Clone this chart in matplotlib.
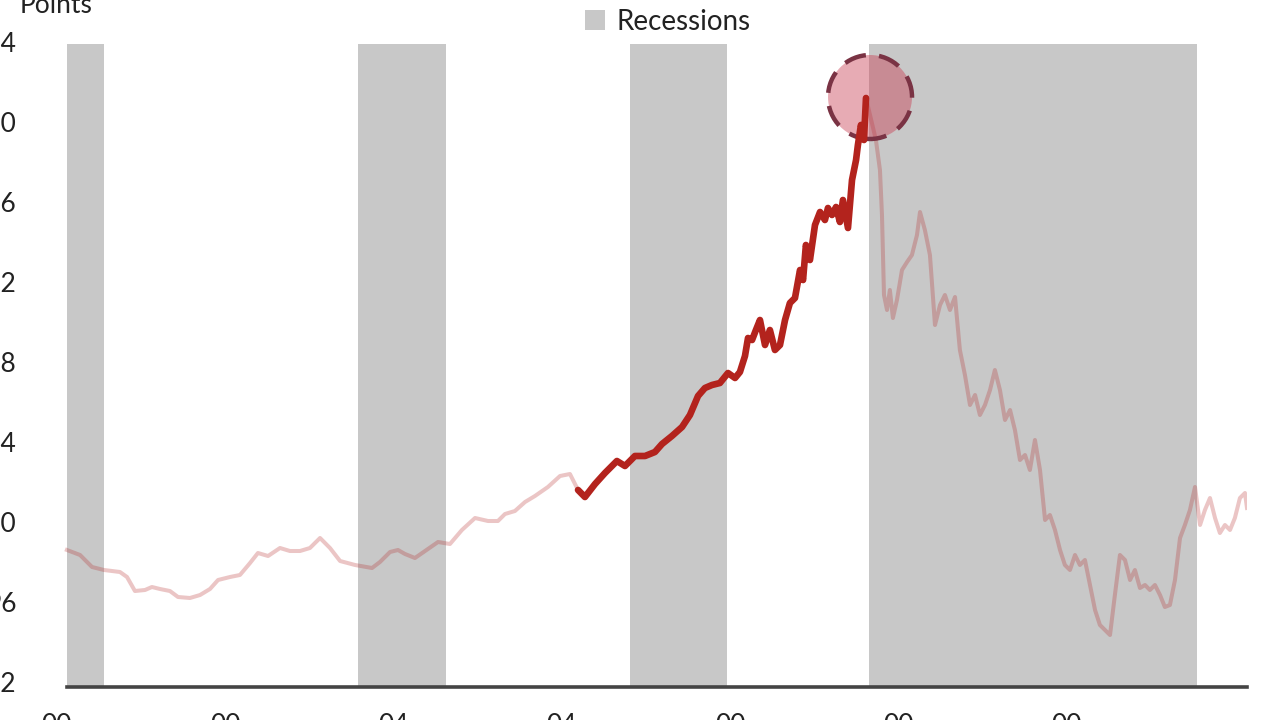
import numpy as np
import matplotlib.pyplot as plt
from matplotlib.patches import Ellipse
from matplotlib.colors import to_rgba

plt.rcParams['font.family'] = ['Lato', 'DejaVu Sans']
plt.rcParams['lines.scale_dashes'] = False

# 指数の推移（読み取り値）
x_vals = [0.59, 1.37, 2.08, 2.79, 3.74, 4.16, 4.63, 5.23, 5.64, 6.12, 6.71, 7.19, 7.90, 8.50,
          9.09, 9.57, 10.28, 10.87, 11.47, 11.94, 12.54, 13.25, 13.84, 14.44, 15.03, 15.63,
          16.22, 16.82, 17.71, 18.72, 19.19, 19.79, 20.26, 20.68, 21.27, 21.87, 22.64, 23.35,
          24.06, 24.84, 25.61, 26.20, 26.62, 27.21, 27.81, 28.40, 29.17, 29.89, 30.48, 30.96,
          31.37, 31.97, 32.56, 33.27, 33.75, 34.34, 34.94, 35.53, 35.95, 36.54, 37.14, 37.61,
          38.09, 38.50, 38.92, 39.39, 39.87, 40.29, 40.58, 40.88, 41.06, 41.30, 41.53, 41.77,
          42.07, 42.36, 42.66, 42.96, 43.26, 43.55, 43.85, 44.15, 44.33, 44.50, 44.74, 45.04,
          45.34, 45.63, 45.81, 46.05, 46.29, 46.52, 46.70, 47.00, 47.24, 47.48, 47.59, 47.77,
          47.95, 48.07,
          48.31, 48.66, 48.90, 49.02, 49.14, 49.32, 49.49, 49.67, 49.91, 50.21, 50.51, 50.80,
          51.10, 51.28, 51.57, 51.87, 52.17, 52.47, 52.76, 53.06, 53.36, 53.65, 53.95, 54.25,
          54.55, 54.84, 55.14, 55.44, 55.73, 56.03, 56.33, 56.63, 56.92, 57.22, 57.52, 57.81,
          58.11, 58.41, 58.71, 59.00, 59.30, 59.60, 59.89, 60.19, 60.49, 60.78, 61.08, 61.38,
          61.68, 61.97, 62.27, 62.57, 62.86, 63.16, 63.46, 63.76, 64.05, 64.35, 64.65, 64.94,
          65.24, 65.54, 65.83, 66.13, 66.43, 66.73, 67.02, 67.32, 67.62, 67.92, 68.21, 68.51,
          68.81, 69.10, 69.40, 69.70, 69.99, 70.29, 70.59, 70.71]
y_vals = [98.6, 98.35, 97.75, 97.6, 97.5, 97.25, 96.55, 96.6, 96.75, 96.65, 96.55, 96.25, 96.2, 96.35,
          96.65, 97.1, 97.25, 97.35, 97.95, 98.45, 98.3, 98.7, 98.55, 98.55, 98.7, 99.2,
          98.7, 98.05, 97.85, 97.7, 98.0, 98.5, 98.6, 98.4, 98.2, 98.55, 99.0, 98.9,
          99.6, 100.2, 100.05, 100.05, 100.4, 100.55, 101.0, 101.3, 101.75, 102.3, 102.4, 101.6,
          101.25, 101.9, 102.45, 103.05, 102.8, 103.3, 103.3, 103.5, 103.9, 104.3, 104.75, 105.35,
          106.3, 106.7, 106.85, 106.95, 107.45, 107.2, 107.5, 108.3, 109.2, 109.1, 109.6, 110.1,
          108.85, 109.6, 108.6, 108.85, 110.1, 110.95, 111.2, 112.6, 112.1, 113.85, 113.1, 114.85,
          115.5, 115.1, 115.7, 115.35, 115.75, 115.0, 116.1, 114.7, 117.1, 118.1, 118.85, 119.85,
          119.1, 121.2,
          120.35, 119.1, 117.6, 115.35, 111.35, 110.6, 111.6, 110.2, 111.1, 112.6, 113.0, 113.35,
          114.35, 115.5, 114.6, 113.35, 109.85, 110.85, 111.35, 110.6, 111.25, 108.6, 107.35, 105.85,
          106.35, 105.35, 105.85, 106.6, 107.6, 106.6, 105.1, 105.6, 104.6, 103.1, 103.35, 102.6,
          104.1, 102.6, 100.1, 100.35, 99.6, 98.6, 97.85, 97.6, 98.35, 97.85, 98.1, 96.85,
          95.6, 94.85, 94.6, 94.35, 96.35, 98.35, 98.1, 97.1, 97.6, 96.7, 96.85, 96.6,
          96.85, 96.35, 95.75, 95.85, 97.1, 99.2, 99.85, 100.6, 101.75, 99.85, 100.6, 101.2,
          100.2, 99.45, 99.85, 99.6, 100.2, 101.2, 101.45, 100.7]

# 強調区間
hl_start = 30.96
hl_end = 48.07

# 景気後退期
recessions = [(0.59, 2.79), (17.88, 23.11), (34.05, 39.81), (48.25, 67.74)]

# ピークの円
peak_x = 48.31
peak_y = 121.25

x_ticks = [0, 10, 20, 30, 40, 50, 60]
x_labels = ["00", "00", "04", "04", "00", "00", "00"]
y_ticks = [92, 96, 100, 104, 108, 112, 116, 120, 124]

x = np.array(x_vals)
y = np.array(y_vals)

fig = plt.figure(figsize=(12.8, 7.2), dpi=100)
ax = fig.add_axes([57 / 1280, 1 - 687 / 720, 1190 / 1280, 645 / 720])

span = None
for a, b in recessions:
    span = ax.axvspan(a, b, ymin=0, ymax=0.997, color='#c8c8c8', lw=0, zorder=1)

# 全体（薄い線）
ax.plot(x, y, color='#b22222', alpha=0.26, lw=2.9, zorder=2, solid_joinstyle='round')

# 強調部分
mask = (x >= hl_start) & (x <= hl_end)
ax.plot(x[mask], y[mask], color='#b3231d', lw=4.8, zorder=4,
        solid_capstyle='round', solid_joinstyle='round')

# ピークの円
circ = Ellipse((peak_x, peak_y), 84 / 16.83, 84 / 20,
               facecolor=to_rgba('#c8384d', 0.42), edgecolor='#7a3344',
               lw=3.2, zorder=3)
circ.set_linestyle((4, (16, 9.5)))
ax.add_patch(circ)

ax.set_xlim(0, 70.71)
ax.set_ylim(91.75, 124)
ax.set_xticks(x_ticks)
ax.set_xticklabels(x_labels)
ax.set_yticks(y_ticks)
ax.set_yticklabels([str(v) for v in y_ticks])
ax.tick_params(axis='y', length=0, pad=29, labelsize=19, labelcolor='#222222')
ax.tick_params(axis='x', length=0, pad=19, labelsize=19, labelcolor='#222222')

for s in ['top', 'right', 'left']:
    ax.spines[s].set_visible(False)
ax.spines['bottom'].set_color('#444444')
ax.spines['bottom'].set_linewidth(2.6)
ax.spines['bottom'].set_bounds(x_vals[0], x_vals[-1])

fig.text(20 / 1280, 1 - 13 / 720, "Points", fontsize=19, color='#222222', va='baseline')

fig.legend(handles=[span], labels=["Recessions"], loc='center',
           bbox_to_anchor=(668 / 1280, 1 - 22 / 720), frameon=False, fontsize=20,
           handlelength=0.72, handleheight=0.72, handletextpad=0.4,
           borderpad=0, borderaxespad=0, labelcolor='#222222')

fig.savefig("out.png", dpi=100)
